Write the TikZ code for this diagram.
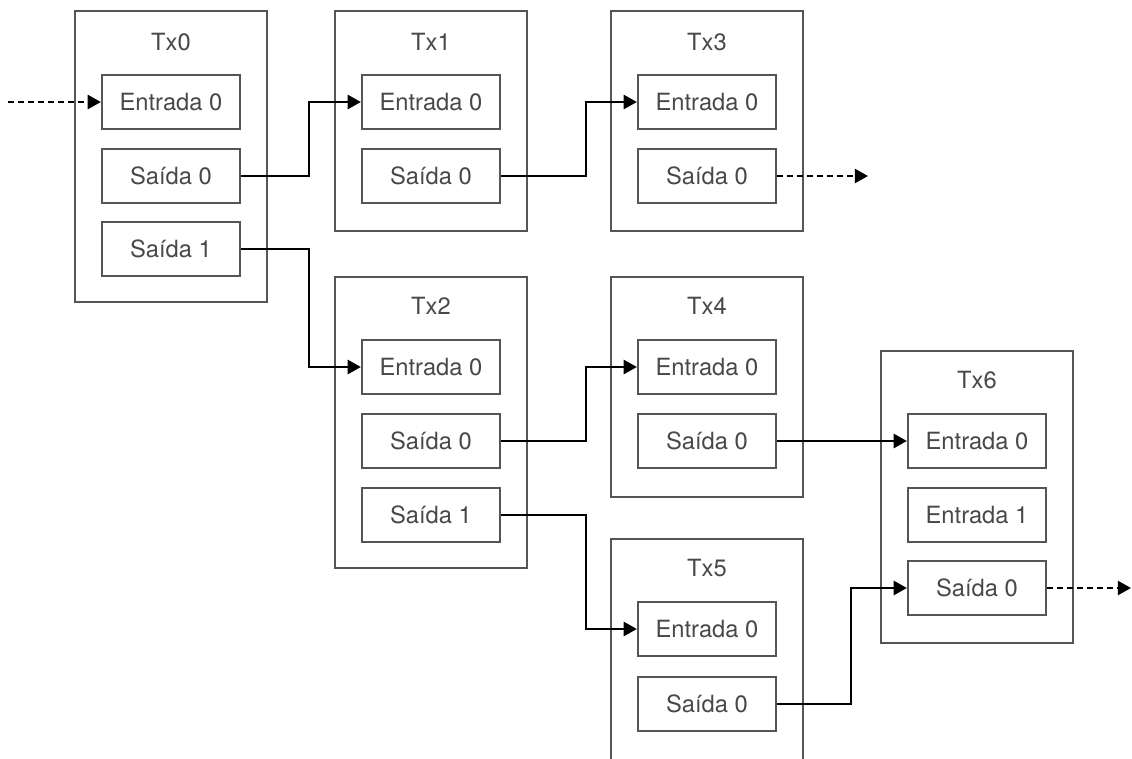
\documentclass[tikz,border=0pt]{standalone}
\usepackage{fontspec}
\setmainfont{TeX Gyre Heros}
\usetikzlibrary{arrows.meta}
\definecolor{boxgray}{HTML}{555555}
\definecolor{textgray}{HTML}{484848}

\begin{document}
\begin{tikzpicture}[x=0.02cm, y={(0cm,-0.02cm)},
  txbox/.style={draw=boxgray, line width=1.3pt, minimum width=3.84cm, inner sep=0pt},
  iobox/.style={draw=boxgray, line width=1.3pt, minimum width=2.76cm, minimum height=1.08cm, inner sep=0pt, text=textgray, font=\fontsize{13.5}{16}\selectfont},
  txlabel/.style={text=textgray, inner sep=0pt, font=\fontsize{13.5}{16}\selectfont},
  link/.style={line width=1.4pt, -{Triangle[length=7.5pt,width=8pt]}},
  loose/.style={link, dash pattern=on 3.4pt off 2.3pt}]
\path[use as bounding box, clip] (0,0) rectangle (1132,758);

\node[txbox, minimum height=5.82cm] (tx0) at (171,156.5){};
\node[txlabel] (tx0l) at (171,42){Tx0};
\node[iobox] (tx0e0) at (171,102){Entrada 0};
\node[iobox] (tx0s0) at (171,176){Saída 0};
\node[iobox] (tx0s1) at (171,249){Saída 1};

\node[txbox, minimum height=4.4cm] (tx1) at (431,121){};
\node[txlabel] (tx1l) at (431,42){Tx1};
\node[iobox] (tx1e0) at (431,102){Entrada 0};
\node[iobox] (tx1s0) at (431,176){Saída 0};

\node[txbox, minimum height=4.4cm] (tx3) at (707,121){};
\node[txlabel] (tx3l) at (707,42){Tx3};
\node[iobox] (tx3e0) at (707,102){Entrada 0};
\node[iobox] (tx3s0) at (707,176){Saída 0};

\node[txbox, minimum height=5.82cm] (tx2) at (431,422.5){};
\node[txlabel] (tx2l) at (431,306){Tx2};
\node[iobox] (tx2e0) at (431,367){Entrada 0};
\node[iobox] (tx2s0) at (431,441){Saída 0};
\node[iobox] (tx2s1) at (431,515){Saída 1};

\node[txbox, minimum height=4.4cm] (tx4) at (707,387){};
\node[txlabel] (tx4l) at (707,306){Tx4};
\node[iobox] (tx4e0) at (707,367){Entrada 0};
\node[iobox] (tx4s0) at (707,441){Saída 0};

\node[txbox, minimum height=4.5cm] (tx5) at (707,651.5){};
\node[txlabel] (tx5l) at (707,568){Tx5};
\node[iobox] (tx5e0) at (707,629){Entrada 0};
\node[iobox] (tx5s0) at (707,704){Saída 0};

\node[txbox, minimum height=5.84cm] (tx6) at (977,497){};
\node[txlabel] (tx6l) at (977,380){Tx6};
\node[iobox] (tx6e0) at (977,441){Entrada 0};
\node[iobox] (tx6e1) at (977,515){Entrada 1};
\node[iobox] (tx6s0) at (977,588){Saída 0};

\coordinate (in0) at (8,102);
\coordinate (out3) at (868,176);
\coordinate (out6) at (1131,588);
\draw[loose] (in0) -- (tx0e0.west);
\draw[link] (tx0s0.east) -- ++(68,0) |- (tx1e0.west);
\draw[link] (tx0s1.east) -- ++(68,0) |- (tx2e0.west);
\draw[link] (tx1s0.east) -- ++(85,0) |- (tx3e0.west);
\draw[loose] (tx3s0.east) -- (out3);
\draw[link] (tx2s0.east) -- ++(85,0) |- (tx4e0.west);
\draw[link] (tx2s1.east) -- ++(85,0) |- (tx5e0.west);
\draw[link] (tx4s0.east) -- (tx6e0.west);
\draw[link] (tx5s0.east) -- ++(74,0) |- (tx6s0.west);
\draw[loose] (tx6s0.east) -- (out6);

\end{tikzpicture}
\end{document}
